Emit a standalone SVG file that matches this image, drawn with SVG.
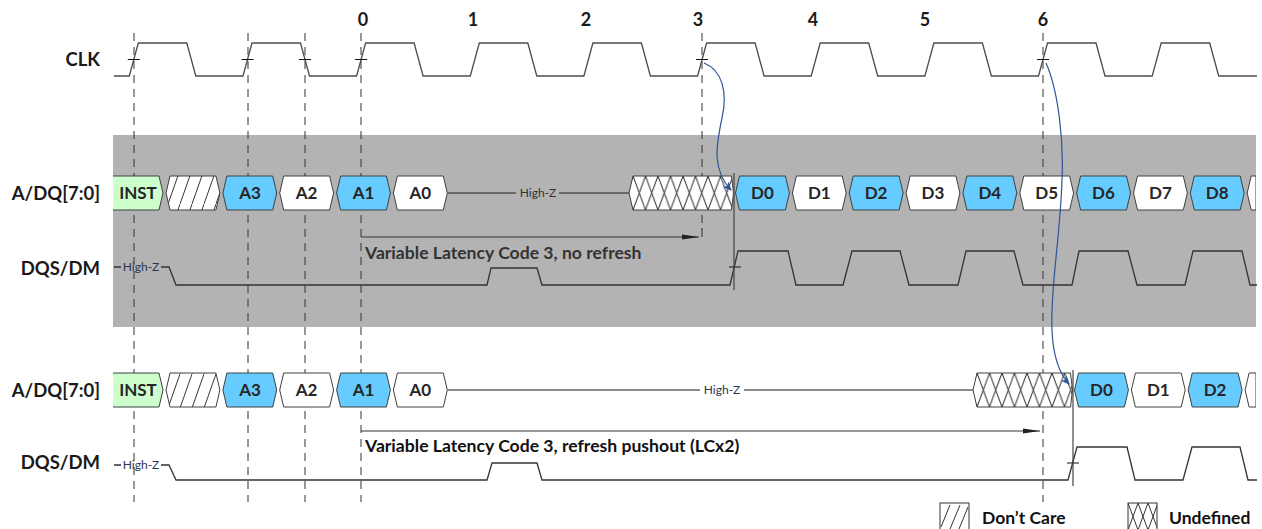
<svg xmlns="http://www.w3.org/2000/svg" width="1262" height="529" viewBox="0 0 1262 529">
<style>
text{font-family:Lato,"Liberation Sans",sans-serif}
.lbl{font-size:18.5px;font-weight:bold;fill:#1a1a1a;text-anchor:end}
.num{font-size:18px;font-weight:bold;fill:#1a1a1a;text-anchor:middle}
.cell{stroke:#404040;stroke-width:1}
.ct{font-size:17px;font-weight:bold;fill:#262626;text-anchor:middle}
.blue{fill:#66CCFF}
.wht{fill:#FFFFFF}
.grn{fill:#CCFFCC}
.wave{fill:none;stroke:#4d4d4d;stroke-width:1.3}
.dash{fill:none;stroke:#333;stroke-width:1;stroke-dasharray:8 6}
.hz{font-size:12px;fill:#2a3550;text-anchor:middle}
.note{font-size:17.6px;font-weight:bold}
.tick{stroke:#111;stroke-width:1}
.arr{fill:none;stroke:#333;stroke-width:1}
.barr{fill:none;stroke:#2E5597;stroke-width:1.2}
.leg{font-size:17.5px;font-weight:bold;fill:#111}
</style>
<defs>
<pattern id="dc" patternUnits="userSpaceOnUse" width="12" height="34" x="0" y="0">
<line x1="0" y1="34" x2="12" y2="0" stroke="#333" stroke-width="1"/>
</pattern>
<pattern id="ud1" patternUnits="userSpaceOnUse" width="12.5" height="34" x="633" y="176">
<line x1="0" y1="34" x2="12.5" y2="0" stroke="#333" stroke-width="1"/>
<line x1="0" y1="0" x2="12.5" y2="34" stroke="#333" stroke-width="1"/>
</pattern>
<pattern id="ud2" patternUnits="userSpaceOnUse" width="12.5" height="34" x="977" y="373">
<line x1="0" y1="34" x2="12.5" y2="0" stroke="#333" stroke-width="1"/>
<line x1="0" y1="0" x2="12.5" y2="34" stroke="#333" stroke-width="1"/>
</pattern>
<pattern id="ud3" patternUnits="userSpaceOnUse" width="10" height="27" x="1128" y="503">
<line x1="0" y1="27" x2="10" y2="0" stroke="#333" stroke-width="1"/>
<line x1="0" y1="0" x2="10" y2="27" stroke="#333" stroke-width="1"/>
</pattern>
<marker id="ah" markerWidth="18" markerHeight="8" refX="17" refY="4" orient="auto" markerUnits="userSpaceOnUse">
<path d="M0,1.5 L17,4 L0,6.5 Z" fill="#222"/>
</marker>
<marker id="bh" markerWidth="10" markerHeight="10" refX="8" refY="5" orient="auto" markerUnits="userSpaceOnUse">
<path d="M0,1 L9,5 L0,9 L2.5,5 Z" fill="#2E5597"/>
</marker>
<clipPath id="wf"><rect x="113" y="0" width="1143" height="529"/></clipPath>
</defs>

<rect id="band" x="113" y="135" width="1143" height="192" fill="#B3B3B3"/>

<g id="labels">
<text class="lbl" x="100" y="66">CLK</text>
<text class="lbl" x="100" y="200">A/DQ[7:0]</text>
<text class="lbl" x="100" y="275">DQS/DM</text>
<text class="lbl" x="100" y="397">A/DQ[7:0]</text>
<text class="lbl" x="100" y="469">DQS/DM</text>
<text class="num" x="363" y="26">0</text>
<text class="num" x="473" y="26">1</text>
<text class="num" x="586" y="26">2</text>
<text class="num" x="698" y="26">3</text>
<text class="num" x="813" y="26">4</text>
<text class="num" x="925" y="26">5</text>
<text class="num" x="1043" y="26">6</text>
</g>

<g id="guides">
<line class="dash" x1="134" y1="33" x2="134" y2="502"/>
<line class="dash" x1="248" y1="33" x2="248" y2="502"/>
<line class="dash" x1="305" y1="33" x2="305" y2="502"/>
<line class="dash" x1="361" y1="33" x2="361" y2="502"/>
<line class="dash" x1="702" y1="33" x2="702" y2="230"/>
<line x1="702" y1="228" x2="702" y2="237" stroke="#333" stroke-width="1"/>
<line class="dash" x1="1043" y1="33" x2="1043" y2="502"/>
</g>

<g id="clk">
<path class="wave" d="M114,76 L129.3,76 L138.3,43 L186.8,43 L195.8,76 L243,76 L252,43 L300.5,43 L309.5,76 L356.6,76 L365.6,43 L414.1,43 L423.1,76 L470.3,76 L479.3,43 L527.8,43 L536.8,76 L583.9,76 L592.9,43 L641.4,43 L650.4,76 L697.6,76 L706.6,43 L755.1,43 L764.1,76 L811.2,76 L820.2,43 L868.7,43 L877.7,76 L924.9,76 L933.9,43 L982.4,43 L991.4,76 L1038.5,76 L1047.5,43 L1096,43 L1105,76 L1152.2,76 L1161.2,43 L1209.7,43 L1218.7,76 L1257,76"/>
<path class="tick" d="M127.8,59.5 H139.8 M241.5,59.5 H253.5 M299,59.5 H311 M355.1,59.5 H367.1 M696,59.5 H708 M1037,59.5 H1049"/>
</g>

<g id="dqs1">
<path class="wave" style="stroke:#333" d="M114,267 L121,267 M161,267 L169,267 L176,285 L487,285 L491,268 L537,268 L542,285 L730,285 L738,251 L788,251 L796,285 L843,285 L852,251 L900,251 L909,285 L958,285 L966,251 L1014,251 L1023,285 L1072,285 L1079,251 L1128,251 L1137,285 L1185,285 L1193,251 L1242,251 L1250,285 L1257,285"/>
<text class="hz" x="141" y="271">High-Z</text>
<path class="tick" d="M729,267 H741"/>
<line x1="734" y1="173" x2="734" y2="290" stroke="#444" stroke-width="1.2"/>
</g>

<g id="dqs2">
<path class="wave" style="stroke:#333" d="M114,465 L121,465 M161,465 L169,465 L176,480 L487,480 L492,463 L537,463 L542,480 L1068,480 L1077,447 L1127,447 L1135,480 L1183,480 L1192,447 L1240,447 L1248,480 L1257,480"/>
<text class="hz" x="141" y="469">High-Z</text>
<path class="tick" d="M1067,463 H1079"/>
<line x1="1073" y1="370" x2="1073" y2="486" stroke="#444" stroke-width="1.2"/>
</g>

<g id="hiz1">
<path d="M448,193 H516 M559,193 H629" stroke="#222" stroke-width="1.1" fill="none"/>
<text class="hz" x="538" y="197" style="fill:#333">High-Z</text>
</g>
<g id="hiz2">
<path d="M448,390 H700 M744,390 H973" stroke="#666" stroke-width="1.3" fill="none"/>
<text class="hz" x="722" y="394">High-Z</text>
</g>

<g clip-path="url(#wf)">
<g id="r1-inst"><polygon class="cell grn" points="105,176 159,176 163,193 159,210 105,210"/><text class="ct" x="138" y="199">INST</text></g>
<g id="r1-dc"><polygon class="cell" fill="#fff" points="166,193 170,176 215.9,176 219.9,193 215.9,210 170,210"/><polygon fill="url(#dc)" points="166,193 170,176 215.9,176 219.9,193 215.9,210 170,210"/></g>
<g id="r1-a3"><polygon class="cell blue" points="222.9,193 226.9,176 272.7,176 276.7,193 272.7,210 226.9,210"/><text class="ct" x="250" y="199">A3</text></g>
<g id="r1-a2"><polygon class="cell wht" points="279.7,193 283.7,176 329.6,176 333.6,193 329.6,210 283.7,210"/><text class="ct" x="306.6" y="199">A2</text></g>
<g id="r1-a1"><polygon class="cell blue" points="336.6,193 340.6,176 386.4,176 390.4,193 386.4,210 340.6,210"/><text class="ct" x="363.5" y="199">A1</text></g>
<g id="r1-a0"><polygon class="cell wht" points="393.4,193 397.4,176 443.3,176 447.3,193 443.3,210 397.4,210"/><text class="ct" x="420.3" y="199">A0</text></g>
<g id="r1-undef"><polygon class="cell" fill="#fff" points="629,193 633,176 731.5,176 733.5,193 731.5,210 633,210"/><polygon fill="url(#ud1)" points="629,193 633,176 731.5,176 733.5,193 731.5,210 633,210"/></g>
<g id="r1-d0"><polygon class="cell blue" points="735.5,193 739.5,176 785.4,176 789.4,193 785.4,210 739.5,210"/><text class="ct" x="762.4" y="199">D0</text></g>
<g id="r1-d1"><polygon class="cell wht" points="792.4,193 796.4,176 842.2,176 846.2,193 842.2,210 796.4,210"/><text class="ct" x="819.3" y="199">D1</text></g>
<g id="r1-d2"><polygon class="cell blue" points="849.2,193 853.2,176 899.1,176 903.1,193 899.1,210 853.2,210"/><text class="ct" x="876.1" y="199">D2</text></g>
<g id="r1-d3"><polygon class="cell wht" points="906.1,193 910.1,176 955.9,176 959.9,193 955.9,210 910.1,210"/><text class="ct" x="933" y="199">D3</text></g>
<g id="r1-d4"><polygon class="cell blue" points="962.9,193 966.9,176 1012.8,176 1016.8,193 1012.8,210 966.9,210"/><text class="ct" x="989.8" y="199">D4</text></g>
<g id="r1-d5"><polygon class="cell wht" points="1019.8,193 1023.8,176 1069.6,176 1073.6,193 1069.6,210 1023.8,210"/><text class="ct" x="1046.7" y="199">D5</text></g>
<g id="r1-d6"><polygon class="cell blue" points="1076.6,193 1080.6,176 1126.5,176 1130.5,193 1126.5,210 1080.6,210"/><text class="ct" x="1103.5" y="199">D6</text></g>
<g id="r1-d7"><polygon class="cell wht" points="1133.5,193 1137.5,176 1183.3,176 1187.3,193 1183.3,210 1137.5,210"/><text class="ct" x="1160.4" y="199">D7</text></g>
<g id="r1-d8"><polygon class="cell blue" points="1190.3,193 1194.3,176 1240.2,176 1244.2,193 1240.2,210 1194.3,210"/><text class="ct" x="1217.2" y="199">D8</text></g>
<g id="r1-d9"><polygon class="cell wht" points="1247.2,193 1251.2,176 1256,176 1256,210 1251.2,210"/></g>

<g id="r2-inst"><polygon class="cell grn" points="105,373 159,373 163,390 159,407 105,407"/><text class="ct" x="138" y="396">INST</text></g>
<g id="r2-dc"><polygon class="cell" fill="#fff" points="166,390 170,373 215.9,373 219.9,390 215.9,407 170,407"/><polygon fill="url(#dc)" points="166,390 170,373 215.9,373 219.9,390 215.9,407 170,407"/></g>
<g id="r2-a3"><polygon class="cell blue" points="222.9,390 226.9,373 272.7,373 276.7,390 272.7,407 226.9,407"/><text class="ct" x="250" y="396">A3</text></g>
<g id="r2-a2"><polygon class="cell wht" points="279.7,390 283.7,373 329.6,373 333.6,390 329.6,407 283.7,407"/><text class="ct" x="306.6" y="396">A2</text></g>
<g id="r2-a1"><polygon class="cell blue" points="336.6,390 340.6,373 386.4,373 390.4,390 386.4,407 340.6,407"/><text class="ct" x="363.5" y="396">A1</text></g>
<g id="r2-a0"><polygon class="cell wht" points="393.4,390 397.4,373 443.3,373 447.3,390 443.3,407 397.4,407"/><text class="ct" x="420.3" y="396">A0</text></g>
<g id="r2-undef"><polygon class="cell" fill="#fff" points="973,390 977,373 1070.5,373 1072.5,390 1070.5,407 977,407"/><polygon fill="url(#ud2)" points="973,390 977,373 1070.5,373 1072.5,390 1070.5,407 977,407"/></g>
<g id="r2-d0"><polygon class="cell blue" points="1074.5,390 1078.5,373 1124.4,373 1128.4,390 1124.4,407 1078.5,407"/><text class="ct" x="1101.4" y="396">D0</text></g>
<g id="r2-d1"><polygon class="cell wht" points="1131.4,390 1135.4,373 1181.2,373 1185.2,390 1181.2,407 1135.4,407"/><text class="ct" x="1158.3" y="396">D1</text></g>
<g id="r2-d2"><polygon class="cell blue" points="1188.2,390 1192.2,373 1238.1,373 1242.1,390 1238.1,407 1192.2,407"/><text class="ct" x="1215.1" y="396">D2</text></g>
<g id="r2-d3"><polygon class="cell wht" points="1245.1,390 1249.1,373 1256,373 1256,407 1249.1,407"/></g>
</g>

<g id="connectors">
<path class="arr" d="M361,237 H699" marker-end="url(#ah)"/>
<path class="arr" d="M361,431 H1040" marker-end="url(#ah)"/>
<path class="barr" d="M704,63 C722,70 728,92 722,118 C716,146 712,170 731,190" marker-end="url(#bh)"/>
<path class="barr" d="M1046,63 C1058,90 1064,140 1062,180 C1060,240 1050,290 1052,330 C1053,355 1058,372 1069,384" marker-end="url(#bh)"/>
</g>

<g id="notes">
<text class="note" x="365" y="259" style="fill:#333">Variable Latency Code 3, no refresh</text>
<text class="note" x="365" y="452" style="fill:#111">Variable Latency Code 3, refresh pushout (LCx2)</text>
</g>

<g id="legend-dc">
<rect x="940" y="503" width="29" height="30" fill="#fff" stroke="#333" stroke-width="1"/>
<path d="M941,527 L950,505 M950,529 L960,505 M959,529 L968,507" stroke="#333" stroke-width="1"/>
<text class="leg" x="982" y="524">Don’t Care</text>
</g>
<g id="legend-ud">
<rect x="1128" y="503" width="29" height="30" fill="url(#ud3)" stroke="#333" stroke-width="1"/>
<text class="leg" x="1169" y="524">Undefined</text>
</g>
</svg>
